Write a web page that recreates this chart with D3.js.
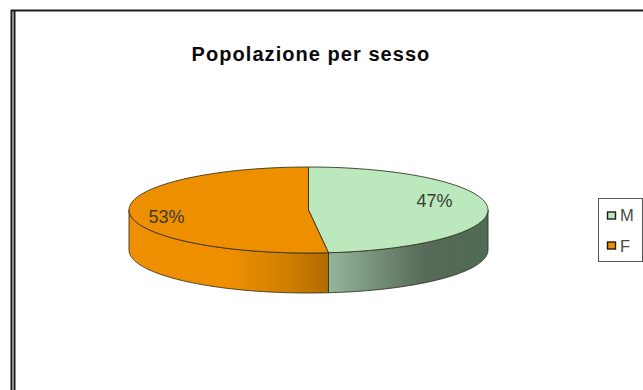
<!DOCTYPE html>
<html>
<head>
<meta charset="utf-8">
<script src="https://d3js.org/d3.v7.min.js"></script>
<style>
  html, body { margin: 0; padding: 0; background: #fff; }
  svg { display: block; }
  text { font-family: "Liberation Sans", Arial, sans-serif; }
</style>
</head>
<body>
<script>
// Chart content
const chartTitle = "Popolazione per sesso";
const categories = ["M", "F"];
const shares = [47, 53];
const topColors = ["#bbe9bd", "#ee8f00"];

// Side wall shading, left to right, for each slice
const wallStops = [
  [[0, "#93b79a"], [0.3, "#748f7a"], [0.6, "#566b58"], [1, "#4f6a55"]],
  [[0, "#ee8f00"], [0.5, "#ee8f00"], [0.8, "#cf7e00"], [1, "#b06c00"]]
];

const width = 643, height = 390;
const cx = 308.5, cy = 210, rx = 179.5, ry = 43, depth = 40;
// The camera tilt pulls the near seam slightly towards the viewer's centre line
const tiltSkew = 23.5 * Math.PI / 180;

const svg = d3.select("body").append("svg")
  .attr("width", width).attr("height", height);
const defs = svg.append("defs");

// Window frame: single rule on top, double rule on the left
const frame = svg.append("g").attr("stroke", "#1c1c1c").attr("fill", "none");
frame.append("line").attr("x1", 11).attr("x2", width).attr("y1", 10.5).attr("y2", 10.5).attr("stroke-width", 2);
frame.append("line").attr("x1", 11.5).attr("x2", 11.5).attr("y1", 10).attr("y2", height).attr("stroke-width", 2);
frame.append("line").attr("x1", 14.5).attr("x2", 14.5).attr("y1", 10).attr("y2", height).attr("stroke-width", 2);

svg.append("text")
  .attr("x", 311).attr("y", 61)
  .attr("text-anchor", "middle")
  .attr("font-size", 20).attr("font-weight", "bold")
  .attr("letter-spacing", 1.05)
  .attr("fill", "#0a0a0a")
  .text(chartTitle);

// Slices run clockwise from twelve o'clock
const arcs = d3.pie().sort(null).value(d => d)(shares);
const screenAngle = a => a + tiltSkew * Math.sin(a);
const px = a => cx + rx * Math.sin(a);
const py = a => cy - ry * Math.cos(a);

function rimPoints(a0, a1, dy) {
  const steps = d3.range(0, 121).map(i => a0 + (a1 - a0) * i / 120);
  return steps.map(a => [px(a), py(a) + dy]);
}
const line = d3.line();

// Side walls: only the part of each rim facing the viewer (90 to 270 degrees)
const pies = arcs.map(d => ({
  start: screenAngle(d.startAngle),
  end: screenAngle(d.endAngle)
}));

arcs.forEach((d, i) => {
  const a0 = Math.max(pies[i].start, Math.PI / 2);
  const a1 = Math.min(pies[i].end, 3 * Math.PI / 2);
  const x0 = Math.min(px(a0), px(a1)), x1 = Math.max(px(a0), px(a1));
  const grad = defs.append("linearGradient")
    .attr("id", "wall-" + i)
    .attr("gradientUnits", "userSpaceOnUse")
    .attr("x1", x0).attr("x2", x1).attr("y1", 0).attr("y2", 0);
  wallStops[i].forEach(s => grad.append("stop").attr("offset", s[0]).attr("stop-color", s[1]));

  const top = rimPoints(a0, a1, 0);
  const bottom = rimPoints(a0, a1, depth).reverse();
  svg.append("path")
    .attr("d", line(top.concat(bottom)) + "Z")
    .attr("fill", "url(#wall-" + i + ")")
    .attr("stroke", "#3a3320").attr("stroke-width", 0.9);
});

// Top faces
arcs.forEach((d, i) => {
  const pts = [[cx, cy]].concat(rimPoints(pies[i].start, pies[i].end, 0));
  svg.append("path")
    .attr("d", line(pts) + "Z")
    .attr("fill", topColors[i])
    .attr("stroke", "#3a3320").attr("stroke-width", 0.9)
    .attr("stroke-linejoin", "round");
});

// Percentage labels sit inside the rim, on the upper half of the face
const labelSpots = [
  { radial: 0.733, angle: 1.28 },
  { radial: 0.808, angle: 4.51 }
];
arcs.forEach((d, i) => {
  const s = labelSpots[i];
  svg.append("text")
    .attr("x", cx + rx * s.radial * Math.sin(s.angle))
    .attr("y", cy - ry * s.radial * Math.cos(s.angle) + 6)
    .attr("text-anchor", "middle")
    .attr("font-size", 18)
    .attr("fill", "#3c3c30")
    .text(d.value + "%");
});

// Legend
const legend = svg.append("g");
legend.append("rect")
  .attr("x", 598.5).attr("y", 198.5).attr("width", 44).attr("height", 63)
  .attr("fill", "#fff").attr("stroke", "#555").attr("stroke-width", 1);
const rowY = d3.scalePoint().domain(categories).range([215.5, 245.5]);
categories.forEach((c, i) => {
  legend.append("rect")
    .attr("x", 607.5).attr("y", rowY(c) - 3.5).attr("width", 8).attr("height", 7)
    .attr("fill", topColors[i]).attr("stroke", "#1c1c1c").attr("stroke-width", 1.4);
  legend.append("text")
    .attr("x", 620).attr("y", rowY(c) + 5 + i)
    .attr("font-size", 16.5).attr("fill", "#4a4a4a")
    .text(c);
});
</script>
</body>
</html>
